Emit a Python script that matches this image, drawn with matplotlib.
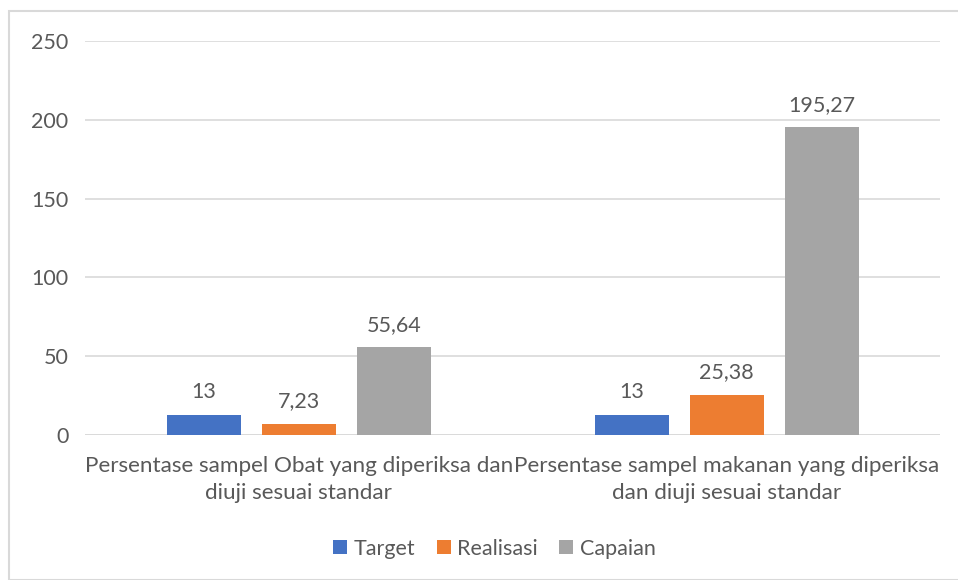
import numpy as np
import matplotlib.pyplot as plt
from matplotlib.patches import Rectangle

# Data
kategori = ["Persentase sampel Obat yang diperiksa dan\ndiuji sesuai standar",
            "Persentase sampel makanan yang diperiksa\ndan diuji sesuai standar"]
seri = ["Target", "Realisasi", "Capaian"]
target = [13, 13]
realisasi = [7.23, 25.38]
capaian = [55.64, 195.27]
warna = ["#4472C4", "#ED7D31", "#A5A5A5"]

plt.rcParams['font.family'] = ['Lato', 'DejaVu Sans']
abu = "#595959"
fs = 15.5

fig = plt.figure(figsize=(9.58, 5.80), dpi=100)
ax = fig.add_axes([0.0887, 0.25, 0.893, 0.679])

x = np.arange(len(kategori))
lebar = 0.173
geser = 0.222
for i, (nama, nilai) in enumerate(zip(seri, [target, realisasi, capaian])):
    pos = x + (i - 1) * geser
    bars = ax.bar(pos, nilai, width=lebar, color=warna[i], label=nama, zorder=3)
    for b, v in zip(bars, nilai):
        teks = f"{v:g}".replace(".", ",")
        ax.text(b.get_x() + b.get_width() / 2, v + 8, teks, ha="center", va="bottom",
                fontsize=fs, color=abu)

ax.set_xlim(-0.5, 1.5)
ax.set_ylim(0, 250)
ax.set_yticks(range(0, 251, 50))
ax.grid(axis="y", color="#d9d9d9", linewidth=1.2, zorder=0)
ax.set_xticks(x)
ax.set_xticklabels(kategori, fontsize=16.2, color=abu, linespacing=1.45)
ax.tick_params(axis="y", length=0, pad=12, labelsize=fs, labelcolor=abu)
ax.tick_params(axis="x", length=0, pad=15)
for s in ax.spines.values():
    s.set_visible(False)
ax.axhline(0, color="#d9d9d9", linewidth=1.2, zorder=2)

ax.legend(loc="center", bbox_to_anchor=(0.516, 0.054), bbox_transform=fig.transFigure,
          ncol=3, frameon=False, fontsize=fs, labelcolor=abu, handlelength=0.65,
          handleheight=0.65, handletextpad=0.3, columnspacing=1.0)

# border of the chart area
fig.patches.append(Rectangle((9 / 958, 0.0), 1.0, 1 - 11 / 580, transform=fig.transFigure,
                             fill=False, edgecolor="#d9d9d9", linewidth=1.5))

fig.savefig("out.png", dpi=100)
